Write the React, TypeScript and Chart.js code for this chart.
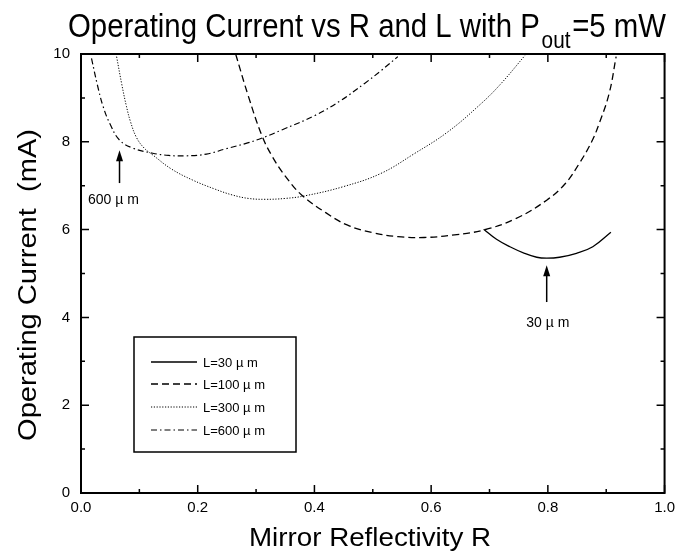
import React, { useEffect, useRef } from "react";
import { Chart, registerables } from "chart.js";

Chart.register(...registerables);

// ---- data ----
const r30 = [0.690, 0.712, 0.735, 0.760, 0.781, 0.798, 0.820, 0.849, 0.877, 0.908];
const i30 = [6.01, 5.78, 5.61, 5.46, 5.37, 5.35, 5.37, 5.46, 5.61, 5.94];

const r100 = [0.265, 0.287, 0.310, 0.328, 0.350, 0.378, 0.420, 0.457, 0.500, 0.543, 0.588, 0.640, 0.690, 0.745, 0.798, 0.830, 0.854, 0.875, 0.888, 0.905, 0.917];
const i100 = [10.0, 9.03, 8.14, 7.66, 7.22, 6.79, 6.38, 6.10, 5.93, 5.84, 5.82, 5.88, 5.99, 6.25, 6.67, 7.05, 7.51, 8.0, 8.42, 9.1, 9.94];

const r300 = [0.061, 0.070, 0.078, 0.085, 0.095, 0.108, 0.123, 0.155, 0.191, 0.230, 0.259, 0.287, 0.316, 0.350, 0.384, 0.450, 0.514, 0.570, 0.628, 0.684, 0.718, 0.761];
const i300 = [9.94, 9.30, 8.80, 8.45, 8.10, 7.86, 7.70, 7.38, 7.13, 6.92, 6.79, 6.71, 6.69, 6.71, 6.77, 6.98, 7.28, 7.72, 8.22, 8.85, 9.30, 9.97];

const r600 = [0.018, 0.028, 0.038, 0.050, 0.066, 0.090, 0.123, 0.150, 0.180, 0.215, 0.248, 0.287, 0.313, 0.344, 0.401, 0.445, 0.486, 0.515, 0.543];
const i600 = [9.90, 9.30, 8.80, 8.40, 8.04, 7.85, 7.74, 7.69, 7.68, 7.72, 7.84, 7.98, 8.10, 8.27, 8.60, 8.94, 9.33, 9.63, 9.94];

const seriesLabels = ["L=30 µ m", "L=100 µ m", "L=300 µ m", "L=600 µ m"];
const xTickLabels = ["0.0", "0.2", "0.4", "0.6", "0.8", "1.0"];
const yTickLabels = ["0", "2", "4", "6", "8", "10"];

const arrow600 = { x: 0.066, tip: 7.81, tail: 7.06, text: "600 µ m", tx: 0.012, ty: 6.67, align: "left" };
const arrow30 = { x: 0.798, tip: 5.19, tail: 4.35, text: "30 µ m", tx: 0.800, ty: 3.87, align: "center" };

const FONT = "'Liberation Sans', Arial, sans-serif";

const dashes: number[][] = [[], [7, 4], [1.2, 1.6], [6, 3, 1.5, 3]];
const widths = [1.3, 1.3, 1.0, 1.2];

function pts(xs: number[], ys: number[]) {
  return xs.map((x, k) => ({ x, y: ys[k] }));
}

function condensedText(ctx: CanvasRenderingContext2D, text: string, x: number, y: number, size: number, width: number) {
  ctx.font = `${size}px ${FONT}`;
  const w = ctx.measureText(text).width;
  ctx.save();
  ctx.translate(x, y);
  ctx.scale(width / w, 1);
  ctx.textAlign = "center";
  ctx.fillText(text, 0, 0);
  ctx.restore();
}

const decorPlugin = {
  id: "decor",
  afterDraw(chart: any) {
    const ctx = chart.ctx as CanvasRenderingContext2D;
    const xs = chart.scales.x;
    const ys = chart.scales.y;
    const a = chart.chartArea;
    ctx.save();
    ctx.strokeStyle = "#000";
    ctx.fillStyle = "#000";
    ctx.lineWidth = 2;
    ctx.strokeRect(a.left, a.top, a.right - a.left, a.bottom - a.top);
    ctx.lineWidth = 1.5;
    for (let k = 0; k <= 10; k++) {
      const px = xs.getPixelForValue(k / 10);
      const len = k % 2 === 0 ? 8 : 4;
      ctx.beginPath();
      ctx.moveTo(px, a.bottom);
      ctx.lineTo(px, a.bottom - len);
      ctx.moveTo(px, a.top);
      ctx.lineTo(px, a.top + len);
      ctx.stroke();
    }
    for (let k = 0; k <= 10; k++) {
      const py = ys.getPixelForValue(k);
      const len = k % 2 === 0 ? 8 : 4;
      ctx.beginPath();
      ctx.moveTo(a.left, py);
      ctx.lineTo(a.left + len, py);
      ctx.moveTo(a.right, py);
      ctx.lineTo(a.right - len, py);
      ctx.stroke();
    }
    for (const ar of [arrow600, arrow30]) {
      const px = xs.getPixelForValue(ar.x);
      const pt = ys.getPixelForValue(ar.tip);
      const pb = ys.getPixelForValue(ar.tail);
      ctx.lineWidth = 1.5;
      ctx.beginPath();
      ctx.moveTo(px, pb);
      ctx.lineTo(px, pt + 6);
      ctx.stroke();
      ctx.beginPath();
      ctx.moveTo(px, pt);
      ctx.lineTo(px - 3.5, pt + 11);
      ctx.lineTo(px + 3.5, pt + 11);
      ctx.closePath();
      ctx.fill();
      ctx.font = `14px ${FONT}`;
      ctx.textAlign = ar.align as CanvasTextAlign;
      ctx.textBaseline = "middle";
      ctx.fillText(ar.text, xs.getPixelForValue(ar.tx), ys.getPixelForValue(ar.ty));
    }
    // legend
    const lx = 134, ly = 337, lw = 162, lh = 115;
    ctx.lineWidth = 1.5;
    ctx.setLineDash([]);
    ctx.strokeRect(lx, ly, lw, lh);
    const rows = [362, 384, 407, 430];
    chart.data.datasets.forEach((ds: any, k: number) => {
      ctx.beginPath();
      ctx.setLineDash(dashes[k]);
      ctx.lineWidth = widths[k];
      ctx.moveTo(151, rows[k]);
      ctx.lineTo(197, rows[k]);
      ctx.stroke();
      ctx.setLineDash([]);
      ctx.font = `13px ${FONT}`;
      ctx.textAlign = "left";
      ctx.textBaseline = "middle";
      ctx.fillText(ds.label, 203, rows[k] + 1);
    });
    // title
    ctx.textBaseline = "alphabetic";
    ctx.textAlign = "left";
    const tMain = "Operating Current vs R and L with P";
    const tSub = "out";
    const tEnd = "=5 mW";
    const big = 34, small = 24;
    ctx.font = `${big}px ${FONT}`;
    const w1 = ctx.measureText(tMain).width;
    const w3 = ctx.measureText(tEnd).width;
    ctx.font = `${small}px ${FONT}`;
    const w2 = ctx.measureText(tSub).width + 4;
    const sx = 598 / (w1 + w2 + w3);
    ctx.save();
    ctx.translate(68, 37);
    ctx.scale(sx, 1);
    ctx.font = `${big}px ${FONT}`;
    ctx.fillText(tMain, 0, 0);
    ctx.font = `${small}px ${FONT}`;
    ctx.fillText(tSub, w1 + 2, 11);
    ctx.font = `${big}px ${FONT}`;
    ctx.fillText(tEnd, w1 + w2, 0);
    ctx.restore();
    // axis titles
    condensedText(ctx, "Mirror Reflectivity R", 370, 546, 26, 242);
    ctx.save();
    ctx.translate(36, 285);
    ctx.rotate(-Math.PI / 2);
    condensedText(ctx, "Operating Current  (mA)", 0, 0, 26, 312);
    ctx.restore();
    ctx.restore();
  },
};

export default function App() {
  const ref = useRef<HTMLCanvasElement | null>(null);
  useEffect(() => {
    const canvas = ref.current!;
    const chart = new Chart(canvas, {
      type: "line",
      data: {
        datasets: [
          { label: seriesLabels[0], data: pts(r30, i30) },
          { label: seriesLabels[1], data: pts(r100, i100) },
          { label: seriesLabels[2], data: pts(r300, i300) },
          { label: seriesLabels[3], data: pts(r600, i600) },
        ].map((d, k) => ({
          ...d,
          borderColor: "#000",
          borderWidth: widths[k],
          borderDash: dashes[k],
          pointRadius: 0,
          fill: false,
          tension: 0.4,
        })),
      },
      options: {
        animation: false,
        responsive: false,
        maintainAspectRatio: false,
        layout: { padding: { top: 54, right: 12, left: 0, bottom: 0 } },
        plugins: { legend: { display: false }, tooltip: { enabled: false }, title: { display: false } },
        scales: {
          x: {
            type: "linear",
            min: 0,
            max: 1,
            grid: { display: false, drawTicks: false },
            border: { display: false },
            afterFit: (s: any) => { s.height = 60; },
            ticks: {
              stepSize: 0.2,
              padding: 6,
              color: "#000",
              font: { family: FONT, size: 15 },
              maxRotation: 0,
              callback: (_v: any, idx: number) => xTickLabels[idx],
            },
          },
          y: {
            type: "linear",
            min: 0,
            max: 10,
            grid: { display: false, drawTicks: false },
            border: { display: false },
            afterFit: (s: any) => { s.width = 81; },
            ticks: {
              stepSize: 2,
              padding: 11,
              color: "#000",
              font: { family: FONT, size: 15 },
              callback: (_v: any, idx: number) => yTickLabels[idx],
            },
          },
        },
      },
      plugins: [decorPlugin],
    });
    return () => chart.destroy();
  }, []);
  return (
    <div style={{ position: "fixed", left: 0, top: 0, width: 681, height: 553, background: "#fff" }}>
      <canvas ref={ref} width={681} height={553} />
    </div>
  );
}
